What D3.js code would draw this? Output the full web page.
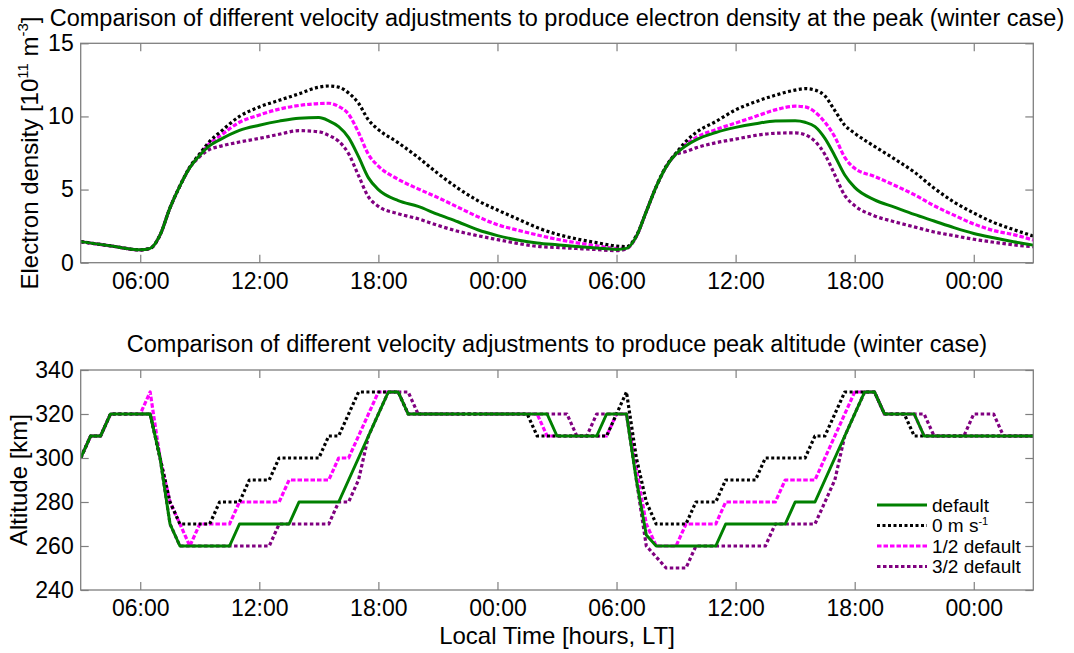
<!DOCTYPE html>
<html>
<head>
<meta charset="utf-8">
<script src="https://cdn.jsdelivr.net/npm/d3@7/dist/d3.min.js"></script>
<style>
  html, body { margin: 0; padding: 0; background: #fff; }
  svg { display: block; }
  text { font-family: "Liberation Sans", Arial, sans-serif; fill: #000; }
</style>
</head>
<body>
<svg id="chart" width="1074" height="653"></svg>
<script>
// ---------------- DATA ----------------
// Local time in hours from 03:00 day 1 (3) to 03:00 day 3 (51)
const densHours = [3, 4.5, 6, 6.5, 7, 7.5, 8, 8.5, 9, 9.5, 10, 11, 12, 13, 14, 15, 15.5, 16, 16.5, 17, 17.5, 18,
  19, 20, 21, 22, 23, 24, 25, 26, 27, 28, 29, 30, 30.5, 31, 31.5, 32, 32.5, 33, 33.5, 34, 35, 36, 37, 38, 39,
  39.5, 40, 40.5, 41, 41.5, 42, 43, 44, 45, 46, 47, 48, 49, 50, 51];

// Electron density [1e11 m^-3]
const densDefault = [1.44, 1.15, 0.88, 0.98, 1.9, 3.75, 5.25, 6.5, 7.35, 8.0, 8.4, 9.05, 9.4, 9.68, 9.88, 9.92, 9.7, 9.3, 8.55, 7.25, 5.8, 5.0,
  4.25, 3.85, 3.3, 2.8, 2.25, 1.85, 1.55, 1.35, 1.22, 1.1, 1.0, 0.91, 0.98, 1.8, 3.5, 5.2, 6.55, 7.45, 8.0, 8.4, 8.9, 9.25, 9.5, 9.68, 9.7,
  9.6, 9.3, 8.5, 7.3, 6.0, 5.15, 4.3, 3.8, 3.3, 2.85, 2.4, 2.0, 1.7, 1.43, 1.2];
const densZero = [1.44, 1.15, 0.88, 0.98, 1.9, 3.75, 5.25, 6.55, 7.45, 8.3, 8.9, 10.0, 10.65, 11.1, 11.55, 12.0, 12.08, 12.0, 11.6, 10.9, 9.76, 9.1,
  8.2, 7.2, 6.1, 5.1, 4.25, 3.6, 3.0, 2.4, 1.95, 1.62, 1.37, 1.14, 1.1, 1.85, 3.5, 5.2, 6.6, 7.5, 8.3, 8.9, 9.65, 10.45, 11.0, 11.45, 11.8,
  11.9, 11.8, 11.4, 10.4, 9.4, 8.85, 7.95, 7.1, 6.2, 5.1, 4.15, 3.4, 2.75, 2.27, 1.82];
const densHalf = [1.44, 1.15, 0.88, 0.98, 1.9, 3.75, 5.25, 6.5, 7.4, 8.15, 8.65, 9.6, 10.1, 10.5, 10.75, 10.88, 10.9, 10.68, 10.15, 8.9, 7.4, 6.6,
  5.7, 5.05, 4.45, 3.8, 3.15, 2.6, 2.23, 1.9, 1.6, 1.36, 1.16, 0.98, 1.0, 1.8, 3.5, 5.2, 6.55, 7.45, 8.1, 8.55, 9.1, 9.55, 10.0, 10.45, 10.7,
  10.65, 10.3, 9.6, 8.6, 7.2, 6.45, 5.9, 5.3, 4.65, 3.9, 3.25, 2.65, 2.2, 1.92, 1.55];
const densThreeHalf = [1.44, 1.15, 0.88, 0.98, 1.9, 3.75, 5.25, 6.5, 7.25, 7.75, 7.95, 8.25, 8.5, 8.78, 9.03, 8.95, 8.7, 8.3, 7.45, 5.95, 4.5, 3.85,
  3.35, 3.0, 2.55, 2.15, 1.85, 1.58, 1.32, 1.12, 1.04, 0.97, 0.9, 0.82, 0.95, 1.8, 3.5, 5.2, 6.55, 7.4, 7.6, 7.85, 8.2, 8.45, 8.7, 8.85, 8.88,
  8.75, 8.3, 7.4, 6.0, 4.6, 3.9, 3.2, 2.8, 2.45, 2.1, 1.85, 1.6, 1.4, 1.22, 1.09];

// Peak altitude [km] as [hour, km] vertices
const altDefault = [[3,300],[3.5,310],[4,310],[4.5,320],[6.5,320],[7,300],[7.5,270],[8,260],[10.5,260],[11,270],[13.5,270],[14,280],[16,280],
  [18.5,330],[19,330],[19.5,320],[26.5,320],[27,310],[29,310],[29.5,320],[30.5,320],[31,290],[31.5,265],[32,260],[35,260],[35.5,270],
  [38.5,270],[39,280],[40,280],[42.5,330],[43,330],[43.5,320],[45,320],[45.5,310],[51,310]];
const altZero = [[3,300],[3.5,310],[4,310],[4.5,320],[6.5,320],[7,300],[7.5,280],[8,270],[9.5,270],[10,280],[11,280],[11.5,290],[12.5,290],
  [13,300],[15,300],[15.5,310],[16,310],[17,330],[19,330],[19.5,320],[25.5,320],[26,310],[29.5,310],[30,320],[30.5,330],[31,300],[31.5,280],
  [32,270],[33.5,270],[34,280],[35,280],[35.5,290],[37,290],[37.5,300],[39.5,300],[40,310],[40.5,310],[41.5,330],[43,330],[43.5,320],
  [44.5,320],[45,310],[51,310]];
const altHalf = [[3,300],[3.5,310],[4,310],[4.5,320],[6,320],[6.5,330],[7,300],[7.5,280],[8,270],[8.5,260],[9,270],[10.5,270],[11,280],
  [13,280],[13.5,290],[15.5,290],[16,300],[16.5,300],[18,330],[19,330],[19.5,320],[26,320],[26.5,310],[29.5,310],[30,320],[30.5,320],
  [31,295],[31.5,270],[32,260],[33,260],[33.5,270],[35,270],[35.5,280],[38,280],[38.5,290],[40,290],[42,330],[43,330],[43.5,320],[45,320],
  [45.5,310],[51,310]];
const altThreeHalf = [[3,300],[3.5,310],[4,310],[4.5,320],[6.5,320],[7,300],[7.5,270],[8,260],[12.5,260],[13,270],[15.5,270],[16,280],
  [16.5,280],[17,290],[17.5,310],[18,320],[18.5,330],[19.5,330],[20,320],[27.5,320],[28,310],[28.5,310],[29,320],[30.5,320],[31,290],
  [31.5,260],[32.5,250],[33.5,250],[34,260],[37.5,260],[38,270],[40,270],[40.5,280],[41,290],[41.5,310],[42,320],[42.5,330],[43,330],
  [43.5,320],[45.5,320],[46,310],[47.5,310],[48,320],[49,320],[49.5,310],[51,310]];

const xTickHours = [6, 12, 18, 24, 30, 36, 42, 48];
const xTickLabels = ["06:00", "12:00", "18:00", "00:00", "06:00", "12:00", "18:00", "00:00"];
const densTicks = [0, 5, 10, 15];
const altTicks = [240, 260, 280, 300, 320, 340];
const seriesNames = ["default", "0 m s", "1/2 default", "3/2 default"];

// ---------------- STYLE ----------------
const styles = [
  { color: "#008000", dash: null, width: 3 },
  { color: "#000000", dash: "3,2.5", width: 3.2 },
  { color: "#ff00ff", dash: "4.5,2", width: 3.2 },
  { color: "#800080", dash: "3.5,2.5", width: 3.2 }
];
const axisColor = "#7f7f7f";
const L = 80.7, R = 1033.3;
const top1 = 43.3, bot1 = 262.7;
const top2 = 370, bot2 = 590;
const tickFont = 23;

const svg = d3.select("#chart");
const x = d3.scaleLinear().domain([3, 51]).range([L, R]);
const y1 = d3.scaleLinear().domain([0, 15]).range([bot1, top1]);
const y2 = d3.scaleLinear().domain([240, 340]).range([bot2, top2]);

function drawFrame(yScale, yTicks, top, bot) {
  const g = svg.append("g");
  const fmt = (d, i) => xTickLabels[i];
  const ax = g.append("g").attr("transform", `translate(0,${bot})`)
    .call(d3.axisBottom(x).tickValues(xTickHours).tickFormat(fmt).tickSize(-8).tickSizeOuter(0).tickPadding(10));
  const axT = g.append("g").attr("transform", `translate(0,${top})`)
    .call(d3.axisTop(x).tickValues(xTickHours).tickFormat("").tickSize(-8).tickSizeOuter(0));
  const ayL = g.append("g").attr("transform", `translate(${L},0)`)
    .call(d3.axisLeft(yScale).tickValues(yTicks).tickFormat(d3.format("d")).tickSize(-8).tickSizeOuter(0).tickPadding(7));
  const ayR = g.append("g").attr("transform", `translate(${R},0)`)
    .call(d3.axisRight(yScale).tickValues(yTicks).tickFormat("").tickSize(-8).tickSizeOuter(0));
  [ax, axT, ayL, ayR].forEach(a => {
    a.select(".domain").remove();
    a.selectAll(".tick line").attr("stroke", axisColor).attr("stroke-width", 1.2);
    a.selectAll(".tick text").attr("font-size", tickFont).attr("fill", "#000")
      .style("font-family", "'Liberation Sans', Arial, sans-serif");
  });
  g.append("rect").attr("x", L).attr("y", top).attr("width", R - L).attr("height", bot - top)
    .attr("fill", "none").attr("stroke", axisColor).attr("stroke-width", 1.3);
}

// clip paths
svg.append("clipPath").attr("id", "c1").append("rect").attr("x", L).attr("y", top1 - 3).attr("width", R - L).attr("height", bot1 - top1 + 6);
svg.append("clipPath").attr("id", "c2").append("rect").attr("x", L).attr("y", top2 - 3).attr("width", R - L).attr("height", bot2 - top2 + 6);

// ---------- Panel 1 ----------
const densSeries = [densDefault, densZero, densHalf, densThreeHalf];
const line1 = d3.line().x(d => x(d[0])).y(d => y1(d[1])).curve(d3.curveMonotoneX);
const p1 = svg.append("g").attr("clip-path", "url(#c1)");
[3, 2, 1, 0].forEach(k => {
  const pts = densHours.map((h, i) => [h, densSeries[k][i]]);
  p1.append("path").attr("d", line1(pts)).attr("fill", "none")
    .attr("stroke", styles[k].color).attr("stroke-width", styles[k].width)
    .attr("stroke-dasharray", styles[k].dash).attr("stroke-linejoin", "round");
});
drawFrame(y1, densTicks, top1, bot1);

// ---------- Panel 2 ----------
const altSeries = [altDefault, altZero, altHalf, altThreeHalf];
const line2 = d3.line().x(d => x(d[0])).y(d => y2(d[1]));
const p2 = svg.append("g").attr("clip-path", "url(#c2)");
[3, 2, 1, 0].forEach(k => {
  p2.append("path").attr("d", line2(altSeries[k])).attr("fill", "none")
    .attr("stroke", styles[k].color).attr("stroke-width", styles[k].width)
    .attr("stroke-dasharray", styles[k].dash).attr("stroke-linejoin", "round");
});
drawFrame(y2, altTicks, top2, bot2);

// ---------- Titles & labels ----------
const cx = (L + R) / 2;
svg.append("text").attr("x", cx).attr("y", 26).attr("text-anchor", "middle").attr("font-size", 23.5)
  .text("Comparison of different velocity adjustments to produce electron density at the peak (winter case)");
svg.append("text").attr("x", cx).attr("y", 352).attr("text-anchor", "middle").attr("font-size", 23.5)
  .text("Comparison of different velocity adjustments to produce peak altitude (winter case)");

const yl1 = svg.append("text").attr("transform", `translate(38,${(top1 + bot1) / 2}) rotate(-90)`)
  .attr("text-anchor", "middle").attr("font-size", 24);
yl1.append("tspan").text("Electron density [10");
yl1.append("tspan").attr("font-size", 15).attr("dy", -10).text("11");
yl1.append("tspan").attr("dy", 10).text(" m");
yl1.append("tspan").attr("font-size", 15).attr("dy", -10).text("-3");
yl1.append("tspan").attr("dy", 10).text("]");

svg.append("text").attr("transform", `translate(27,${(top2 + bot2) / 2}) rotate(-90)`)
  .attr("text-anchor", "middle").attr("font-size", 24).text("Altitude [km]");

svg.append("text").attr("x", cx).attr("y", 644).attr("text-anchor", "middle").attr("font-size", 24)
  .text("Local Time [hours, LT]");

// ---------- Legend ----------
const lg = svg.append("g");
const legY = [505, 525.5, 546, 566.5];
seriesNames.forEach((name, k) => {
  lg.append("line").attr("x1", 877).attr("x2", 927).attr("y1", legY[k]).attr("y2", legY[k])
    .attr("stroke", styles[k].color).attr("stroke-width", styles[k].width)
    .attr("stroke-dasharray", styles[k].dash);
  const t = lg.append("text").attr("x", 932).attr("y", legY[k] + 6.5).attr("font-size", 19).text(name);
  if (k === 1) {
    t.append("tspan").attr("font-size", 11).attr("dy", -7).text("-1");
  }
});
</script>
</body>
</html>
